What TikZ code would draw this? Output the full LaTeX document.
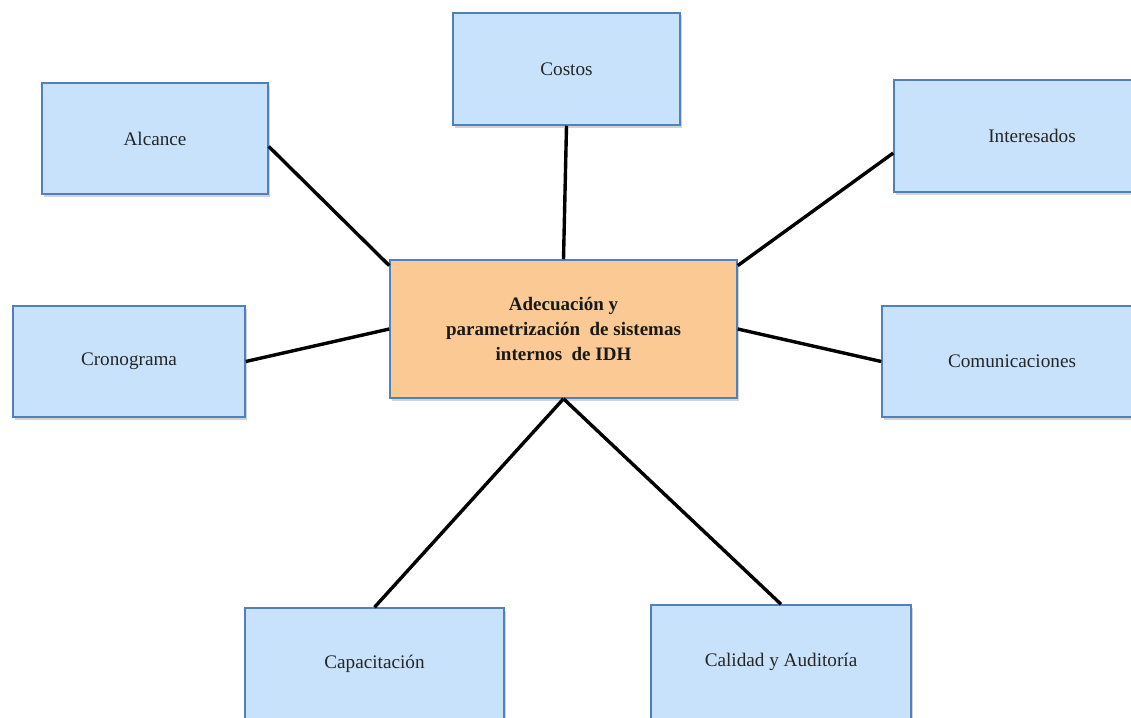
\documentclass[tikz,border=0pt]{standalone}
\usepackage{fontspec}
\setmainfont{Liberation Serif}
\usetikzlibrary{shadows}
\definecolor{boxblue}{RGB}{200,226,251}
\definecolor{edgeblue}{RGB}{79,129,189}
\definecolor{boxorange}{RGB}{251,202,148}
\begin{document}
\begin{tikzpicture}[x=1pt,y=-1pt,
  topic/.style={draw=edgeblue, line width=1.5pt, fill=boxblue, inner sep=0pt,
    drop shadow={shadow xshift=1.5pt, shadow yshift=-2.5pt, opacity=0.35},
    font=\fontsize{19.2}{22}\selectfont, text=black!85},
  core/.style={draw=edgeblue, line width=1.5pt, fill=boxorange, inner sep=0pt,
    drop shadow={shadow xshift=1.5pt, shadow yshift=-2.5pt, opacity=0.35},
    font=\fontsize{19}{25}\selectfont\bfseries, align=center, text=black!90},
  link/.style={line width=3.4pt, black}]
\useasboundingbox (0,0) rectangle (1131,717);
\clip (0,0) rectangle (1131,717);
\node[core, minimum width=347pt, minimum height=138pt] (c) at (563.5,329)
  {Adecuación y\\parametrización\ \ de sistemas\\internos\ \ de IDH};
\node[topic, minimum width=227pt, minimum height=112pt] (cos) at (566.5,69) {Costos};
\node[topic, minimum width=226pt, minimum height=111pt] (alc) at (155,138.5) {Alcance};
\node[topic, minimum width=276pt, minimum height=112pt] (int) at (1032,136) {Interesados};
\node[topic, minimum width=232pt, minimum height=111pt] (cro) at (129,361.5) {Cronograma};
\node[topic, minimum width=260pt, minimum height=111pt] (com) at (1012,361.5) {Comunicaciones};
\node[topic, minimum width=259pt, minimum height=112pt] (cap) at (374.5,664) {Capacitación};
\node[topic, minimum width=260pt, minimum height=114pt] (cal) at (781,662) {Calidad y Auditoría};
\draw[link] (alc.-4.8) -- (c.160);
\draw[link] (cos.south) -- (c.north);
\draw[link] (int.187) -- (c.20.8);
\draw[link] (cro.east) -- (c.west);
\draw[link] (com.west) -- (c.east);
\draw[link] (cap.north) -- (c.south);
\draw[link] (cal.north) -- (c.south);
\end{tikzpicture}
\end{document}
